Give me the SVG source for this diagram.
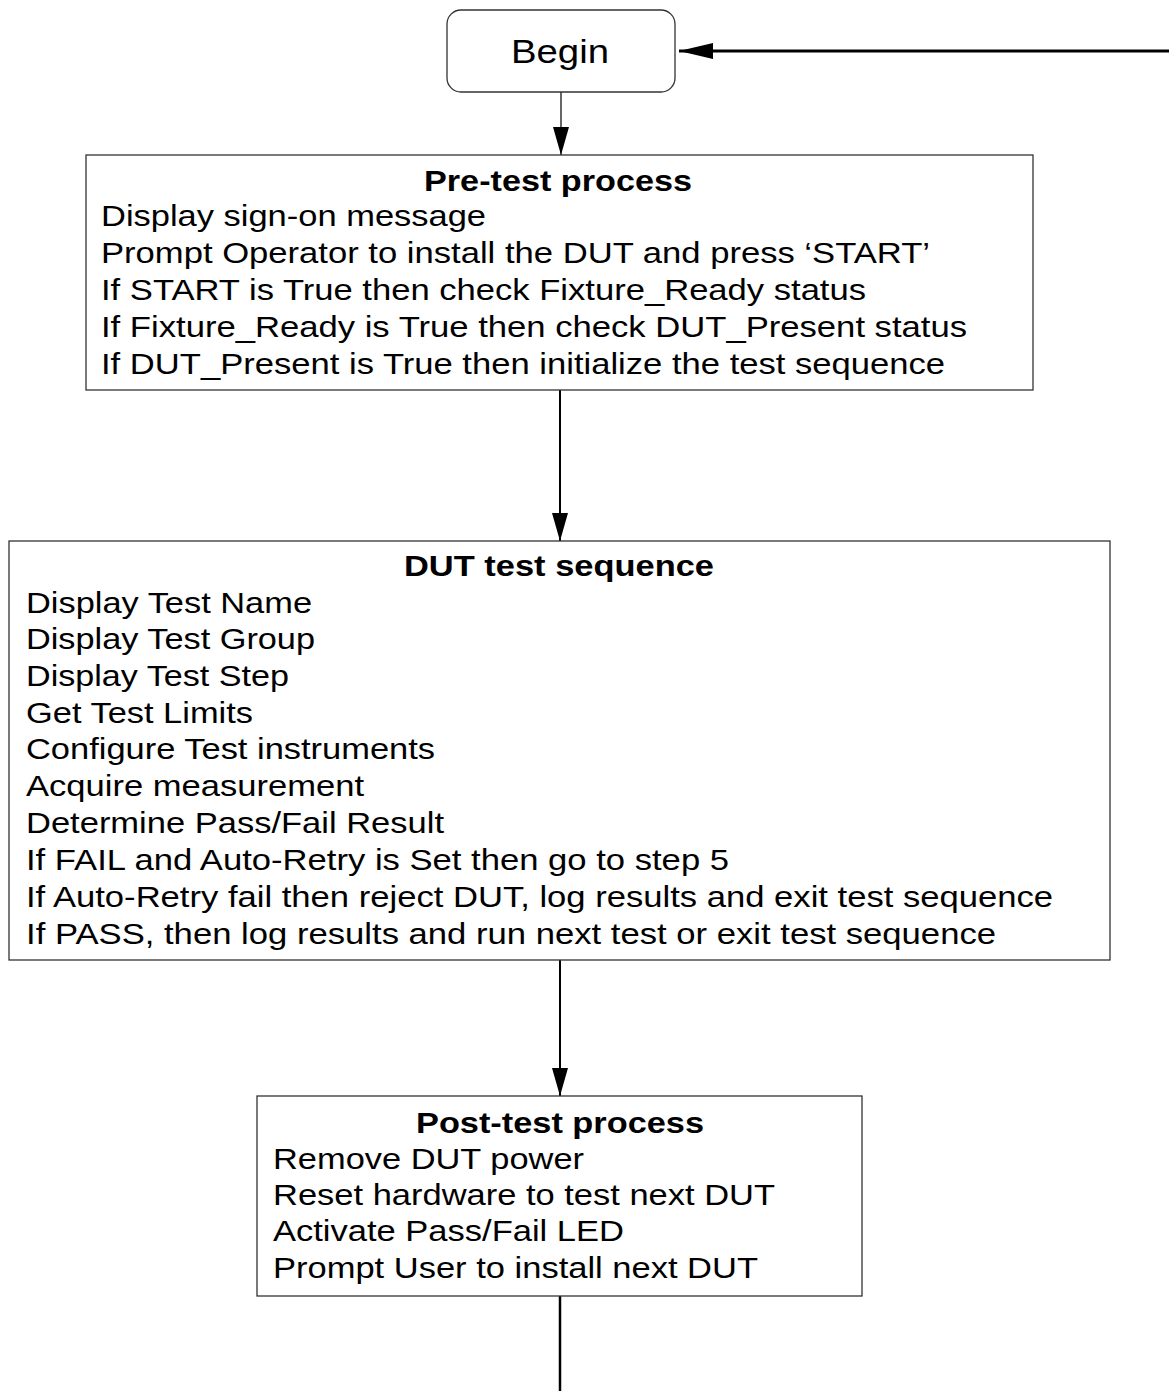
<svg xmlns="http://www.w3.org/2000/svg" width="1169" height="1391" viewBox="0 0 1169 1391">
<style>
.box{fill:#fff;stroke:#333;stroke-width:1.3}
.t{font-family:"Liberation Sans",Arial,sans-serif;font-size:29px;fill:#000}
.h{font-family:"Liberation Sans",Arial,sans-serif;font-size:29px;font-weight:bold;fill:#000}
.c{stroke:#000;stroke-width:2;fill:none}
</style>
<defs>
<marker id="ah" markerUnits="userSpaceOnUse" markerWidth="30" markerHeight="18" refX="28" refY="8" orient="auto">
<path d="M0,0 L28,8 L0,16 Z" fill="#000"/>
</marker>
<marker id="ahb" markerUnits="userSpaceOnUse" markerWidth="36" markerHeight="18" refX="34" refY="8" orient="auto">
<path d="M0,0 L34,8 L0,16 Z" fill="#000"/>
</marker>
</defs>
<g id="connectors">
<path class="c" style="stroke-width:3" d="M1169,51 L679,51" marker-end="url(#ahb)"/>
<path class="c" style="stroke-width:1.2" d="M561,92 L561,155" marker-end="url(#ah)"/>
<path class="c" d="M560,390 L560,541" marker-end="url(#ah)"/>
<path class="c" d="M560,960 L560,1096" marker-end="url(#ah)"/>
<path class="c" style="stroke-width:2.5" d="M560,1296 L560,1391"/>
</g>
<g id="begin">
<rect class="box" x="447" y="10" width="228" height="82" rx="14"/>
<text class="t" x="511" y="63" style="font-size:34px" textLength="98" lengthAdjust="spacingAndGlyphs">Begin</text>
</g>
<g id="pretest">
<rect class="box" x="86" y="155" width="947" height="235"/>
<text class="h" x="424" y="191" textLength="268" lengthAdjust="spacingAndGlyphs">Pre-test process</text>
<text class="t" x="101" y="226" textLength="385" lengthAdjust="spacingAndGlyphs">Display sign-on message</text>
<text class="t" x="101" y="263" textLength="829" lengthAdjust="spacingAndGlyphs">Prompt Operator to install the DUT and press ‘START’</text>
<text class="t" x="101" y="300" textLength="765" lengthAdjust="spacingAndGlyphs">If START is True then check Fixture_Ready status</text>
<text class="t" x="101" y="337" textLength="866" lengthAdjust="spacingAndGlyphs">If Fixture_Ready is True then check DUT_Present status</text>
<text class="t" x="101" y="374" textLength="844" lengthAdjust="spacingAndGlyphs">If DUT_Present is True then initialize the test sequence</text>
</g>
<g id="dut">
<rect class="box" x="9" y="541" width="1101" height="419"/>
<text class="h" x="404" y="576" textLength="310" lengthAdjust="spacingAndGlyphs">DUT test sequence</text>
<text class="t" x="26" y="613" textLength="286" lengthAdjust="spacingAndGlyphs">Display Test Name</text>
<text class="t" x="26" y="649" textLength="289" lengthAdjust="spacingAndGlyphs">Display Test Group</text>
<text class="t" x="26" y="686" textLength="263" lengthAdjust="spacingAndGlyphs">Display Test Step</text>
<text class="t" x="26" y="723" textLength="227" lengthAdjust="spacingAndGlyphs">Get Test Limits</text>
<text class="t" x="26" y="759" textLength="409" lengthAdjust="spacingAndGlyphs">Configure Test instruments</text>
<text class="t" x="26" y="796" textLength="338" lengthAdjust="spacingAndGlyphs">Acquire measurement</text>
<text class="t" x="26" y="833" textLength="418" lengthAdjust="spacingAndGlyphs">Determine Pass/Fail Result</text>
<text class="t" x="26" y="870" textLength="703" lengthAdjust="spacingAndGlyphs">If FAIL and Auto-Retry is Set then go to step 5</text>
<text class="t" x="26" y="907" textLength="1027" lengthAdjust="spacingAndGlyphs">If Auto-Retry fail then reject DUT, log results and exit test sequence</text>
<text class="t" x="26" y="944" textLength="970" lengthAdjust="spacingAndGlyphs">If PASS, then log results and run next test or exit test sequence</text>
</g>
<g id="posttest">
<rect class="box" x="257" y="1096" width="605" height="200"/>
<text class="h" x="416" y="1133" textLength="288" lengthAdjust="spacingAndGlyphs">Post-test process</text>
<text class="t" x="273" y="1169" textLength="311" lengthAdjust="spacingAndGlyphs">Remove DUT power</text>
<text class="t" x="273" y="1205" textLength="502" lengthAdjust="spacingAndGlyphs">Reset hardware to test next DUT</text>
<text class="t" x="273" y="1241" textLength="351" lengthAdjust="spacingAndGlyphs">Activate Pass/Fail LED</text>
<text class="t" x="273" y="1278" textLength="485" lengthAdjust="spacingAndGlyphs">Prompt User to install next DUT</text>
</g>
</svg>
